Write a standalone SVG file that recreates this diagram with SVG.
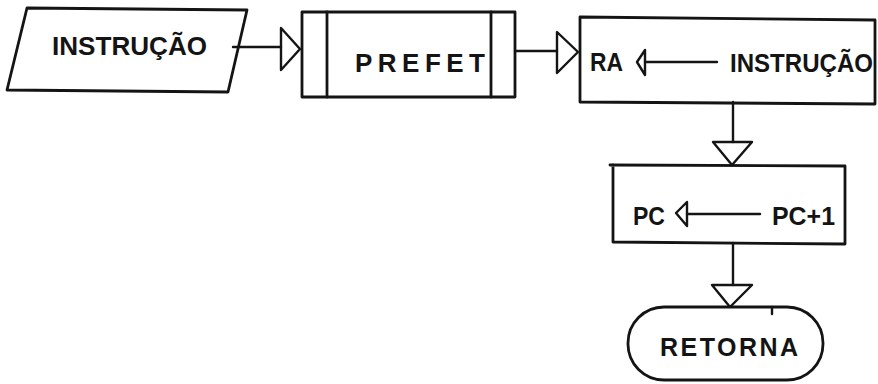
<svg xmlns="http://www.w3.org/2000/svg" width="878" height="384" viewBox="0 0 878 384">
  <style>
    .shape { fill: none; stroke: #141414; stroke-width: 2.8; stroke-linejoin: round; stroke-linecap: round; }
    .wire { fill: none; stroke: #141414; stroke-width: 2.4; stroke-linecap: round; stroke-linejoin: round; }
    .label { font-family: "Liberation Sans", "DejaVu Sans", sans-serif; fill: #141414; font-weight: bold; }
    .plain { font-family: "Liberation Sans", "DejaVu Sans", sans-serif; fill: #141414; font-weight: bold; }
  </style>
  <rect width="878" height="384" fill="#ffffff"/>

  <!-- Input instruction (parallelogram) -->
  <g id="input">
    <path class="shape" d="M27,8 L247,10 L228,92 L7,90 Z"/>
    <text class="label" x="52" y="55" font-size="25" textLength="155" lengthAdjust="spacingAndGlyphs">INSTRUÇÃO</text>
  </g>

  <!-- Predefined process PREFET -->
  <g id="prefet">
    <rect class="shape" x="302" y="12" width="213" height="85"/>
    <line class="shape" x1="327" y1="12" x2="327" y2="97"/>
    <line class="shape" x1="491" y1="12" x2="491" y2="97"/>
    <text class="plain" x="355" y="72" font-size="26" textLength="130" lengthAdjust="spacing">PREFET</text>
  </g>

  <!-- Assignment RA <- INSTRUCAO -->
  <g id="assign-ra">
    <path class="shape" d="M580,17 L875,20 L875,104 L580,102 Z"/>
    <text class="label" x="590" y="71" font-size="25" textLength="33" lengthAdjust="spacingAndGlyphs">RA</text>
    <path class="wire" d="M645,50 L637,62 L645,75 Z"/>
    <line class="wire" x1="645" y1="62" x2="717" y2="62"/>
    <text class="label" x="730" y="72" font-size="25" textLength="143" lengthAdjust="spacingAndGlyphs">INSTRUÇÃO</text>
  </g>

  <!-- Assignment PC <- PC+1 -->
  <g id="assign-pc">
    <path class="shape" d="M610,165 L845,166 L845,244 L613,242 L613,165"/>
    <text class="label" x="633" y="225" font-size="26" textLength="32" lengthAdjust="spacingAndGlyphs">PC</text>
    <path class="wire" d="M687,202 L676,213 L687,226 Z"/>
    <line class="wire" x1="687" y1="214" x2="760" y2="214"/>
    <text class="label" x="772" y="225" font-size="26" textLength="63" lengthAdjust="spacingAndGlyphs">PC+1</text>
  </g>

  <!-- Terminator RETORNA -->
  <g id="retorna">
    <rect class="shape" x="628" y="307" width="195" height="73" rx="36" ry="36"/>
    <line class="wire" x1="772" y1="307" x2="772" y2="314"/>
    <text class="plain" x="660" y="356" font-size="25" textLength="138" lengthAdjust="spacing">RETORNA</text>
  </g>

  <!-- Connectors with open triangular arrowheads -->
  <g id="connectors">
    <line class="wire" x1="233" y1="47" x2="281" y2="47"/>
    <path class="wire" d="M281,28 L281,70 L300,49 Z"/>

    <line class="wire" x1="515" y1="51" x2="557" y2="51"/>
    <path class="wire" d="M557,32 L557,73 L578,52 Z"/>

    <line class="wire" x1="733" y1="102" x2="733" y2="142"/>
    <path class="wire" d="M713,142 L752,142 L732,165 Z"/>

    <line class="wire" x1="733" y1="243" x2="733" y2="285"/>
    <path class="wire" d="M712,285 L752,285 L730,307 Z"/>
  </g>
</svg>
